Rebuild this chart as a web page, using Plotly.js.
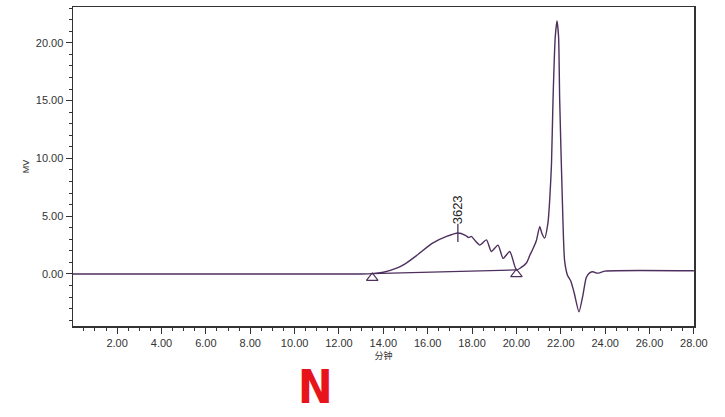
<!DOCTYPE html>
<html>
<head>
<meta charset="utf-8">
<script src="https://cdn.plot.ly/plotly-3.0.1.min.js"></script>
<style>html,body{margin:0;padding:0;background:#fff;}#chart{width:725px;height:417px;}</style>
</head>
<body>
<div id="chart"></div>
<script>
// Retention time (minutes) and detector signal (MV)
const timeMin = [0, 13.0, 13.5, 14.0, 14.6, 15.0, 15.5, 16.2, 16.85, 17.36, 17.7, 17.85, 17.97, 18.15, 18.35, 18.65, 18.87, 19.17, 19.4, 19.7, 20.0, 20.2, 20.45, 20.6, 20.75, 20.9, 21.05, 21.15, 21.27, 21.42, 21.5, 21.58, 21.65, 21.75, 21.83, 21.9, 21.95, 22.07, 22.17, 22.3, 22.45, 22.6, 22.82, 23.0, 23.15, 23.3, 23.45, 23.6, 23.75, 24.0, 28.0];
const signalMV = [0.0, 0.0, 0.03, 0.15, 0.5, 0.9, 1.6, 2.65, 3.25, 3.55, 3.35, 3.15, 3.25, 2.85, 2.5, 2.95, 1.95, 2.5, 1.35, 1.95, 0.35, 0.55, 0.95, 1.6, 2.2, 2.9, 4.1, 3.5, 3.1, 4.4, 6.4, 9.5, 15.1, 20.5, 21.9, 20.5, 15.1, 6.4, 1.2, -0.1, -0.6, -1.6, -3.27, -1.8, -0.3, 0.1, 0.2, 0.08, 0.1, 0.25, 0.28];

// Integration baseline (start / end of peak)
const baseX = [13.5, 20.0];
const baseY = [0.03, 0.35];
const triangleOffset = 0.37;

// Peak label
const peakTime = [17.36];
const peakHeight = [3.55];
const peakLabel = ['3623'];

// Ticks
const xTickVals = [2, 4, 6, 8, 10, 12, 14, 16, 18, 20, 22, 24, 26, 28];
const xTickText = xTickVals.map(v => v.toFixed(2));
const yTickVals = [0, 5, 10, 15, 20];
const yTickText = yTickVals.map(v => v.toFixed(2));

const lineColor = '#4e2f5e';

const traces = [
  {x: timeMin, y: signalMV, type: 'scatter', mode: 'lines',
   line: {color: lineColor, width: 1.4, shape: 'spline', smoothing: 0.6}, hoverinfo: 'skip'},
  {x: baseX, y: baseY, type: 'scatter', mode: 'lines',
   line: {color: lineColor, width: 1.2}, hoverinfo: 'skip'},
  {x: baseX, y: baseY.map(v => v - triangleOffset), type: 'scatter', mode: 'markers',
   marker: {symbol: 'triangle-up-open', size: 10, color: lineColor, line: {width: 1.2, color: lineColor}}, hoverinfo: 'skip'},
  {x: peakTime, y: peakHeight, type: 'scatter', mode: 'markers',
   marker: {symbol: 'line-ns-open', size: 13, color: lineColor, line: {width: 1.3, color: lineColor}}, hoverinfo: 'skip'}
];

const annotations = peakTime.map((t, i) => ({
  x: t, y: peakHeight[i], xref: 'x', yref: 'y', text: peakLabel[i], showarrow: false,
  textangle: -90, yanchor: 'bottom', yshift: 7,
  font: {family: 'Liberation Sans, Arial, sans-serif', size: 13, color: '#222'}
}));
annotations.push({
  x: 0.391, y: -0.19, xref: 'paper', yref: 'paper', text: '<b>N</b>', showarrow: false,
  xanchor: 'center', yanchor: 'middle',
  font: {family: 'DejaVu Sans Condensed, DejaVu Sans, sans-serif', size: 46, color: '#e8141c'}
});

const axisFont = {family: 'Liberation Sans, Arial, sans-serif', size: 11, color: '#333'};

const layout = {
  width: 725, height: 417,
  margin: {l: 73, r: 31, t: 7, b: 91},
  paper_bgcolor: '#fff', plot_bgcolor: '#fff',
  showlegend: false,
  xaxis: {
    range: [0.01, 28.005], tickmode: 'array', tickvals: xTickVals, ticktext: xTickText,
    ticks: 'outside', ticklen: 6, tickwidth: 1, tickcolor: '#333',
    minor: {dtick: 0.5, tick0: 0, ticks: 'outside', ticklen: 3, tickcolor: '#333', showgrid: false},
    showgrid: false, zeroline: false, showline: true, linecolor: '#333', linewidth: 1.5, mirror: true,
    tickfont: axisFont,
    title: {text: '分钟', font: {family: 'Noto Sans CJK SC, sans-serif', size: 9, color: '#333'}, standoff: 4}
  },
  yaxis: {
    range: [-4.5, 23.1], tickmode: 'array', tickvals: yTickVals, ticktext: yTickText,
    ticks: 'outside', ticklen: 6, tickwidth: 1, tickcolor: '#333',
    minor: {dtick: 1, tick0: 0, ticks: 'outside', ticklen: 3, tickcolor: '#333', showgrid: false},
    showgrid: false, zeroline: false, showline: true, linecolor: '#333', linewidth: 1.5, mirror: true,
    tickfont: axisFont,
    title: {text: 'MV', font: {family: 'Liberation Sans, Arial, sans-serif', size: 9, color: '#333'}, standoff: 4}
  },
  annotations: annotations
};

Plotly.newPlot('chart', traces, layout, {staticPlot: true, displayModeBar: false});
</script>
</body>
</html>
